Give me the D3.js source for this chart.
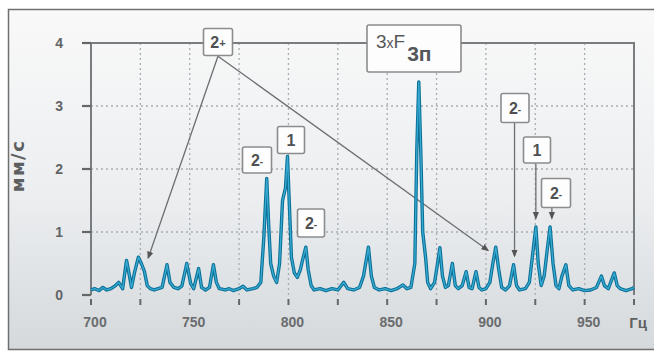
<!DOCTYPE html>
<html>
<head>
<meta charset="utf-8">
<script src="https://cdn.jsdelivr.net/npm/d3@7"></script>
<style>
  html, body { margin: 0; padding: 0; background: #fff; }
  svg { display: block; }
  text { font-family: "Liberation Sans", Arial, sans-serif; }
</style>
</head>
<body>
<svg id="chart" width="654" height="353"></svg>
<script>
// Vibration velocity spectrum, mm/s versus frequency, Hz
const freqHz = [
  700, 702, 704, 706, 708, 710, 712, 714, 716, 718, 719.5, 720.5, 722, 724, 725.5, 727, 728.5, 730,
  732, 734, 736, 738.5, 740, 742, 744, 746, 748.5, 750.5, 752, 754.5, 756, 758, 760, 762, 763.5, 765,
  768, 770, 772, 775, 777, 779, 782, 784, 786, 787.5, 789, 790, 791, 792.5, 794, 795.5, 797, 798.5,
  799.5, 800.5, 801.5, 803, 804.5, 806, 807.5, 808.8, 810, 811.5, 813, 816, 819, 822, 825, 828, 830,
  833, 836, 838, 840.5, 842, 843.5, 846, 849, 852, 855, 858, 860, 862, 864, 865, 866, 867, 868, 869.5,
  870.5, 872, 874, 875.5, 876.7, 878, 879.5, 881, 883, 884.5, 886, 888, 890, 891.5, 893, 895, 896.5,
  898, 900, 902, 903.5, 905, 906.5, 908, 910, 912, 914, 915.5, 917, 920, 922, 923.5, 925.3, 926.5,
  928, 929.5, 931, 932.5, 934, 935.5, 937, 938.5, 940.5, 942, 944, 947, 950, 953, 956, 958.5, 960,
  962, 965, 966.5, 968, 971, 974, 975
];
const amplitude = [
  0.08, 0.10, 0.07, 0.12, 0.08, 0.10, 0.14, 0.20, 0.10, 0.55, 0.30, 0.12, 0.35, 0.60, 0.50, 0.38, 0.15, 0.10,
  0.08, 0.10, 0.12, 0.48, 0.20, 0.12, 0.10, 0.14, 0.50, 0.18, 0.10, 0.42, 0.12, 0.08, 0.12, 0.48, 0.20, 0.10,
  0.08, 0.10, 0.07, 0.10, 0.14, 0.08, 0.10, 0.12, 0.20, 0.90, 1.85, 1.10, 0.50, 0.30, 0.20, 0.50, 1.50, 1.70,
  2.20, 1.40, 0.60, 0.35, 0.28, 0.40, 0.60, 0.76, 0.40, 0.15, 0.08, 0.10, 0.07, 0.10, 0.08, 0.20, 0.10,
  0.08, 0.12, 0.30, 0.76, 0.30, 0.12, 0.08, 0.10, 0.07, 0.10, 0.16, 0.10, 0.12, 0.50, 2.30, 3.38, 2.30, 1.00, 0.58,
  0.20, 0.10, 0.20, 0.50, 0.75, 0.30, 0.12, 0.15, 0.50, 0.15, 0.10, 0.15, 0.37, 0.12, 0.10, 0.37, 0.12,
  0.08, 0.10, 0.20, 0.50, 0.76, 0.40, 0.12, 0.08, 0.15, 0.48, 0.15, 0.08, 0.10, 0.20, 0.60, 1.08, 0.50,
  0.15, 0.30, 0.70, 1.08, 0.50, 0.15, 0.10, 0.30, 0.48, 0.15, 0.08, 0.10, 0.07, 0.08, 0.12, 0.30, 0.15,
  0.10, 0.35, 0.15, 0.10, 0.07, 0.10, 0.12
];
const xTickValues = [700, 750, 800, 850, 900, 950];
const xGridValues = [725, 750, 775, 800, 825, 850, 875, 900, 925, 950, 975];
const yTickValues = [0, 1, 2, 3, 4];
const yLabel = "мм/с";
const xUnit = "Гц";

const svg = d3.select("#chart");
const W = 654, H = 353;

// background panel with soft vertical gradient
const defs = svg.append("defs");
const grad = defs.append("linearGradient").attr("id", "bg").attr("x1", 0).attr("y1", 0).attr("x2", 0).attr("y2", 1);
grad.append("stop").attr("offset", "0%").attr("stop-color", "#f9f9f9");
grad.append("stop").attr("offset", "55%").attr("stop-color", "#eceef0");
grad.append("stop").attr("offset", "100%").attr("stop-color", "#d5d9dc");
defs.append("marker").attr("id", "arrow").attr("viewBox", "0 0 10 10")
  .attr("refX", 8).attr("refY", 5).attr("markerWidth", 6).attr("markerHeight", 6)
  .attr("orient", "auto-start-reverse")
  .append("path").attr("d", "M0,1 L10,5 L0,9 z").attr("fill", "#555");

svg.append("rect").attr("width", W).attr("height", H).attr("fill", "#fff");
svg.append("rect").attr("x", 8.5).attr("y", 9.5).attr("width", 660).attr("height", 340)
  .attr("fill", "url(#bg)").attr("stroke", "#6f6f6f").attr("stroke-width", 1.5);

const x = d3.scaleLinear().domain([700, 975]).range([91, 634]);
const y = d3.scaleLinear().domain([0, 4]).range([295, 43]);

// dotted grid
const grid = svg.append("g").attr("stroke", "#a9adb1").attr("stroke-width", 1.3)
  .attr("stroke-dasharray", "2,3");
grid.selectAll("line.v").data(xGridValues.filter(d => d < 975)).join("line")
  .attr("x1", d => x(d)).attr("x2", d => x(d)).attr("y1", y(4)).attr("y2", y(0));
grid.selectAll("line.h").data([1, 2, 3]).join("line")
  .attr("x1", x(700)).attr("x2", x(975)).attr("y1", d => y(d)).attr("y2", d => y(d));

// frame: left axis, top and right borders
const axisColor = "#7a7d80";
svg.append("path")
  .attr("d", `M${x(700)},${y(0)} V${y(4)} H${x(975)} V${y(0)}`)
  .attr("fill", "none").attr("stroke", axisColor).attr("stroke-width", 2);

// y ticks and labels
svg.append("g").selectAll("line").data(yTickValues).join("line")
  .attr("x1", x(700) - 9).attr("x2", x(700)).attr("y1", d => y(d)).attr("y2", d => y(d))
  .attr("stroke", "#666").attr("stroke-width", 2.2);
svg.append("g").selectAll("text").data(yTickValues).join("text")
  .attr("x", 63).attr("y", d => y(d) + 5).attr("text-anchor", "end")
  .attr("font-size", 14).attr("font-weight", "bold").attr("fill", "#626466")
  .text(d => d);

// x ticks and labels
svg.append("g").selectAll("line").data(xGridValues.concat([700])).join("line")
  .attr("x1", d => x(d)).attr("x2", d => x(d)).attr("y1", y(0) + 4).attr("y2", y(0) + 10)
  .attr("stroke", "#666").attr("stroke-width", 2);
svg.append("g").selectAll("text").data(xTickValues).join("text")
  .attr("x", d => x(d) + 4).attr("y", 327).attr("text-anchor", "middle")
  .attr("font-size", 14).attr("font-weight", "bold").attr("fill", "#6a6c6e")
  .text(d => d);
svg.append("text").attr("x", 638).attr("y", 328).attr("text-anchor", "middle")
  .attr("font-size", 15).attr("font-weight", "bold").attr("fill", "#5f6163").text(xUnit);

svg.append("text").attr("transform", "translate(24,166) rotate(-90)")
  .attr("text-anchor", "middle").attr("font-size", 18).attr("font-weight", "bold")
  .attr("letter-spacing", 1.5)
  .style("font-family", "'DejaVu Sans', sans-serif")
  .attr("fill", "#5c5e60").text(yLabel);

// annotation leader lines
const leaders = [
  { from: [764.3, 3.79], to: [729, 0.59] },
  { from: [764.3, 3.79], to: [901, 0.71] },
  { from: [914.5, 2.76], to: [914.5, 0.62] },
  { from: [925.3, 2.08], to: [925.3, 1.22] },
  { from: [933.4, 1.40], to: [933.4, 1.22] }
];
svg.append("g").selectAll("line").data(leaders).join("line")
  .attr("x1", d => x(d.from[0])).attr("y1", d => y(d.from[1]))
  .attr("x2", d => x(d.to[0])).attr("y2", d => y(d.to[1]))
  .attr("stroke", "#6c6e70").attr("stroke-width", 1.3)
  .attr("marker-end", "url(#arrow)");

// spectrum line, two-tone
const pts = freqHz.map((f, i) => [f, amplitude[i]]);
const line = d3.line().x(d => x(d[0])).y(d => y(d[1]));
svg.append("path").datum(pts).attr("d", line).attr("fill", "none")
  .attr("stroke", "#0b6f96").attr("stroke-width", 3.4).attr("stroke-linejoin", "round");
svg.append("path").datum(pts).attr("d", line).attr("fill", "none")
  .attr("stroke", "#38abd2").attr("stroke-width", 1.3).attr("stroke-linejoin", "round");

// labelled boxes
const boxes = [
  { cx: 218, cy: 42, w: 29, h: 27, t: "2+" },
  { cx: 257, cy: 160, w: 29, h: 26, t: "2-" },
  { cx: 291, cy: 140, w: 27, h: 27, t: "1" },
  { cx: 311, cy: 223, w: 27, h: 28, t: "2-" },
  { cx: 515, cy: 108, w: 28, h: 29, t: "2-" },
  { cx: 537, cy: 150, w: 27, h: 26, t: "1" },
  { cx: 556, cy: 193, w: 29, h: 29, t: "2-" }
];
const bg = svg.append("g");
boxes.forEach(b => {
  bg.append("rect").attr("x", b.cx - b.w / 2).attr("y", b.cy - b.h / 2)
    .attr("width", b.w).attr("height", b.h).attr("rx", 2)
    .attr("fill", "#fdfdfd").attr("stroke", "#8a8c8e").attr("stroke-width", 1.6);
  const t = bg.append("text").attr("x", b.cx).attr("y", b.cy + 6).attr("text-anchor", "middle")
    .attr("font-size", 16).attr("font-weight", "bold").attr("fill", "#4e5052");
  t.append("tspan").text(b.t[0]);
  if (b.t.length > 1) {
    t.append("tspan").attr("font-size", b.t[1] === "+" ? 11 : 10).attr("dy", -1).text(b.t[1]);
  }
});

// 3xF box
bg.append("rect").attr("x", 367).attr("y", 25).attr("width", 94).attr("height", 47).attr("rx", 2)
  .attr("fill", "#fdfdfd").attr("stroke", "#8a8c8e").attr("stroke-width", 1.6);
const ft = bg.append("text").attr("x", 376).attr("y", 48).attr("fill", "#55575a")
  .attr("font-size", 19);
ft.append("tspan").text("3");
ft.append("tspan").attr("font-size", 14).text("x");
ft.append("tspan").text("F");
ft.append("tspan").attr("dy", 13).attr("dx", 2).attr("font-size", 21).attr("font-weight", "bold").text("3п");
</script>
</body>
</html>
